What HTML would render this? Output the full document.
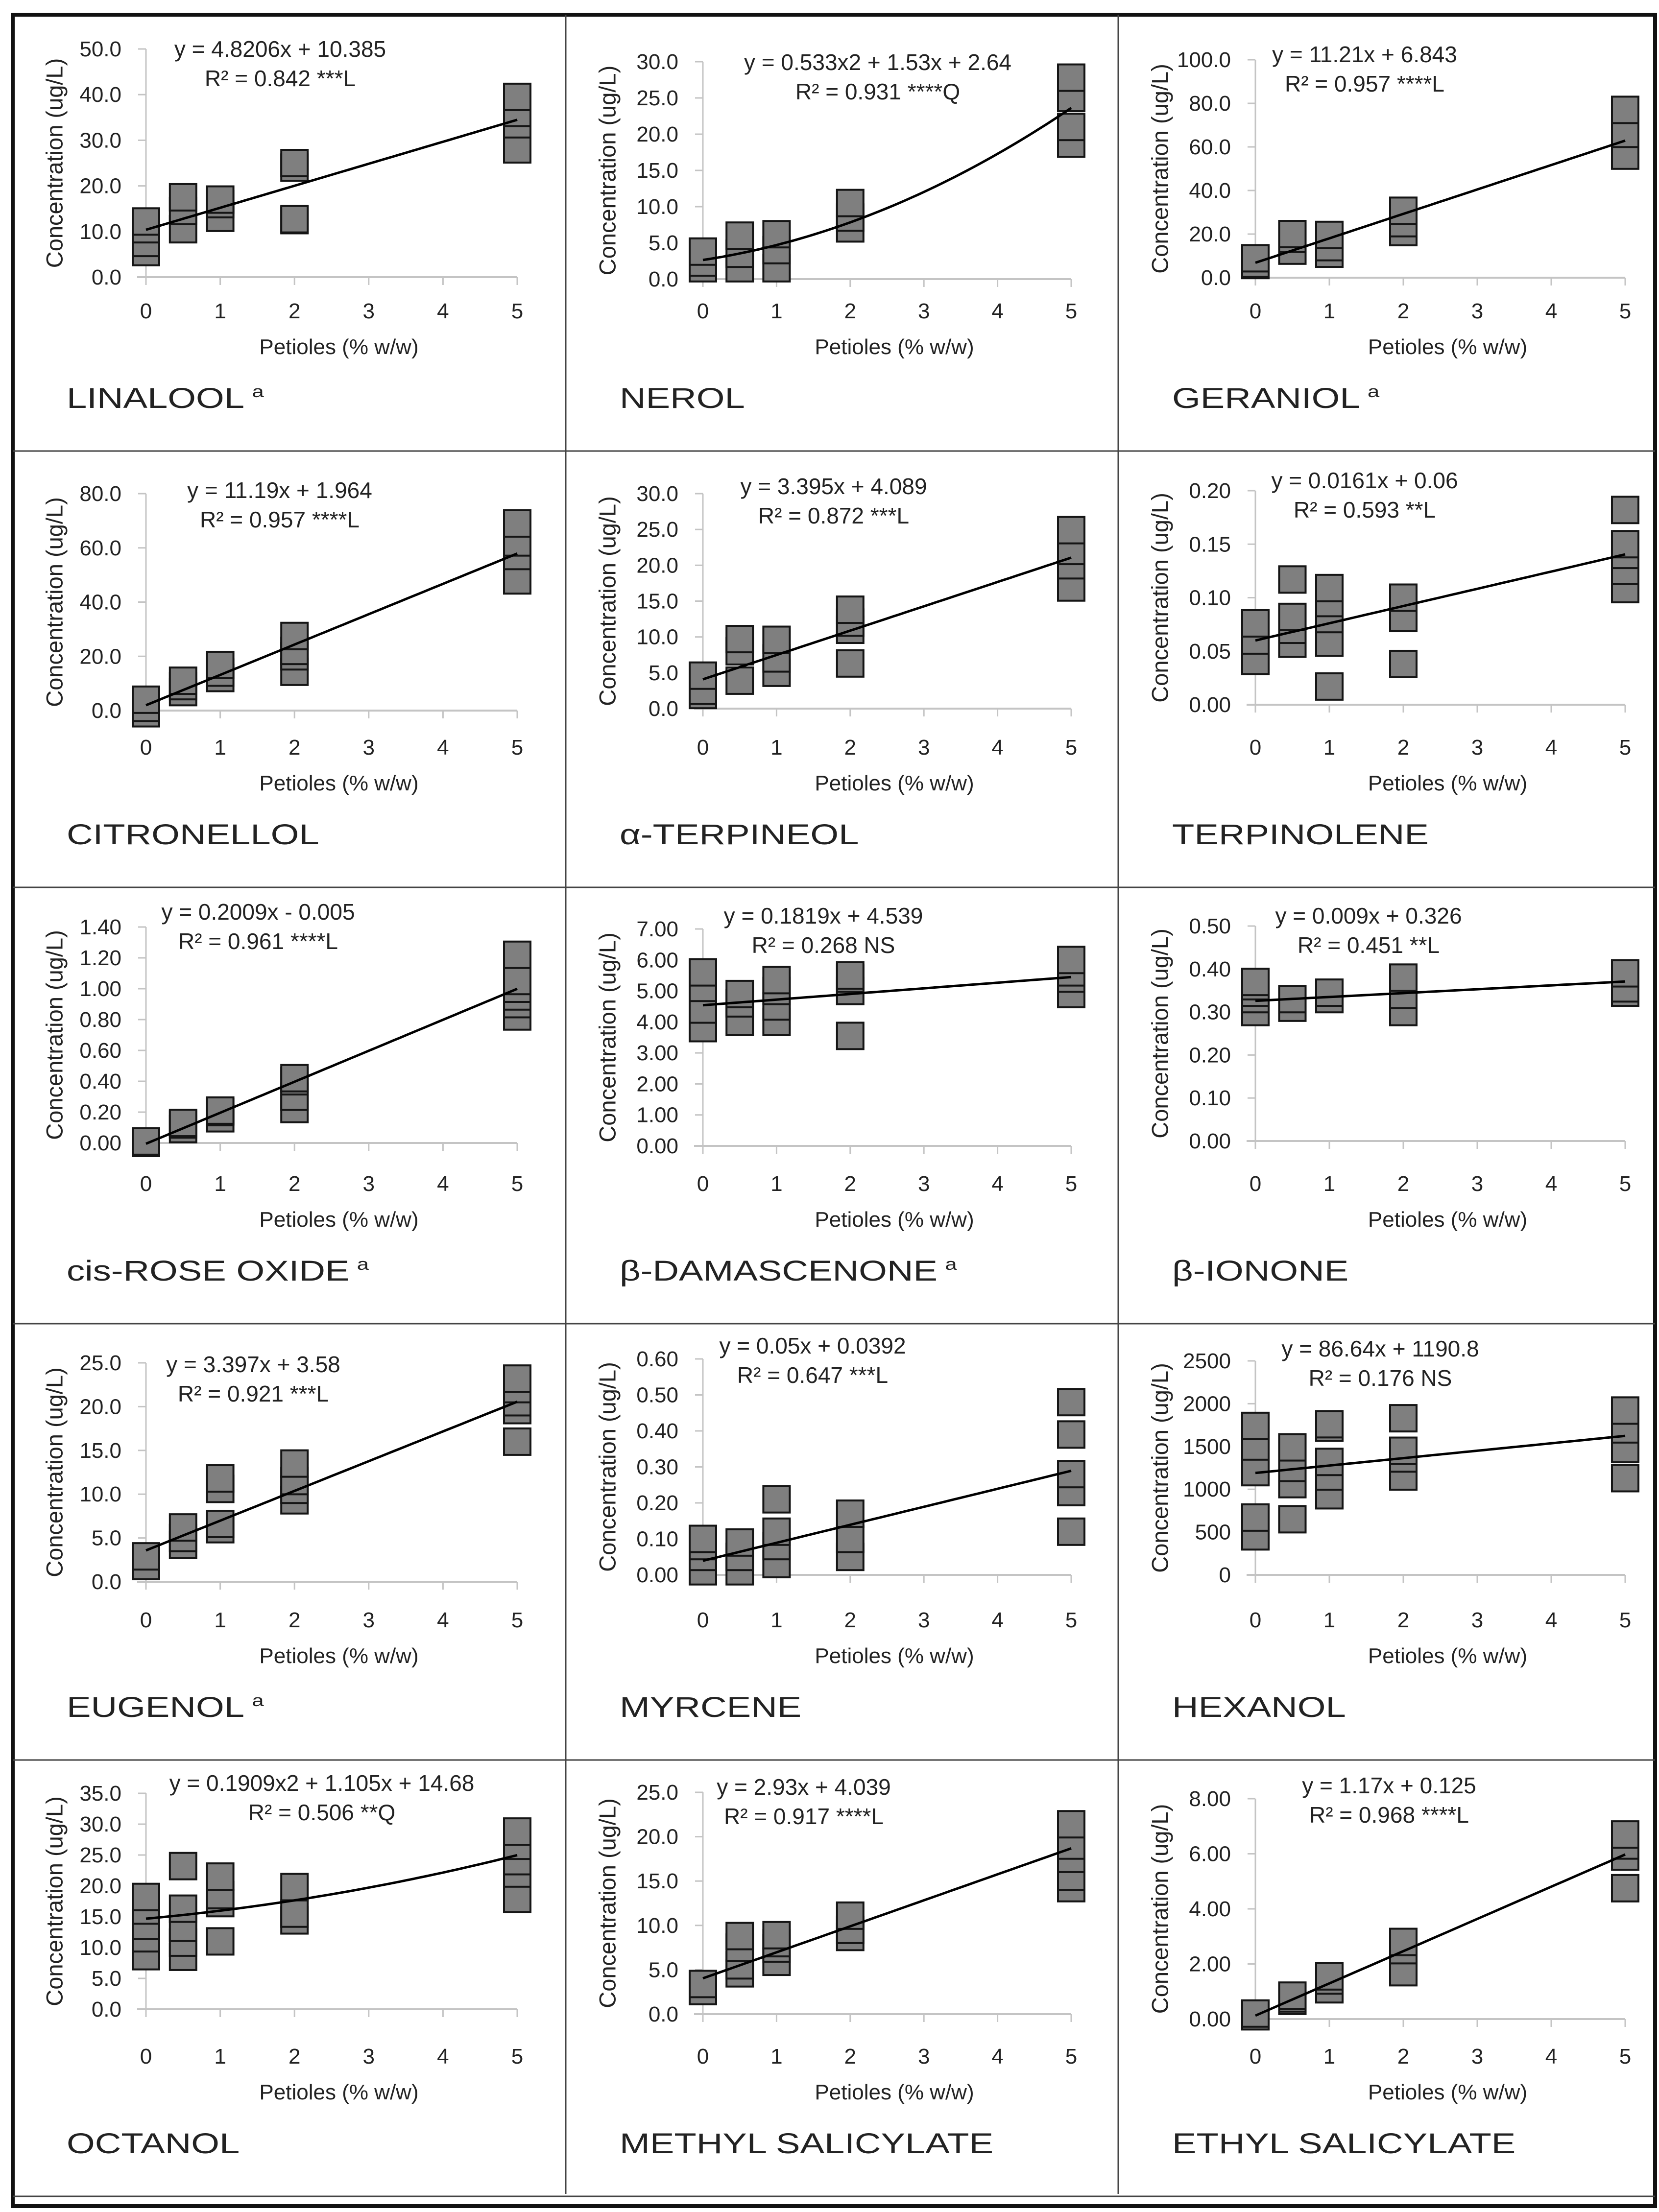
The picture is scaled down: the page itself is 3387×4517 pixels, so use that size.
<!DOCTYPE html>
<html><head><meta charset="utf-8"><style>
html,body{margin:0;padding:0;background:#fff}
svg{display:block}
text{font-family:"Liberation Sans",Arial,sans-serif;fill:#222}
</style></head>
<body>
<svg id="fig" xmlns="http://www.w3.org/2000/svg" width="3387" height="4517" viewBox="0 0 3387 4517">
<rect x="0" y="0" width="3387" height="4517" fill="#fff"/>
</svg>
<script>
// ---- data ----
const xLevels = [0, 0.5, 1, 2, 5];
const compoundNames = ["LINALOOL","NEROL","GERANIOL","CITRONELLOL","α-TERPINEOL","TERPINOLENE","cis-ROSE OXIDE","β-DAMASCENONE","β-IONONE","EUGENOL","MYRCENE","HEXANOL","OCTANOL","METHYL SALICYLATE","ETHYL SALICYLATE"];
const compoundSup = [1,0,1,0,0,0,1,1,0,1,0,0,0,0,0];
const yMaxes = [50,30,100,80,30,0.2,1.4,7,0.5,25,0.6,2500,35,25,8];
const ySteps = [10,5,20,20,5,0.05,0.2,1,0.1,5,0.1,500,5,5,2];
const yDecimals = [1,1,1,1,1,2,2,2,2,1,2,0,1,1,2];
const xTicks = [0,1,2,3,4,5];
const eqLine1 = ["y = 4.8206x + 10.385","y = 0.533x2 + 1.53x + 2.64","y = 11.21x + 6.843","y = 11.19x + 1.964","y = 3.395x + 4.089","y = 0.0161x + 0.06","y = 0.2009x - 0.005","y = 0.1819x + 4.539","y = 0.009x + 0.326","y = 3.397x + 3.58","y = 0.05x + 0.0392","y = 86.64x + 1190.8","y = 0.1909x2 + 1.105x + 14.68","y = 2.93x + 4.039","y = 1.17x + 0.125"];
const eqLine2 = ["R² = 0.842 ***L","R² = 0.931 ****Q","R² = 0.957 ****L","R² = 0.957 ****L","R² = 0.872 ***L","R² = 0.593 **L","R² = 0.961 ****L","R² = 0.268 NS","R² = 0.451 **L","R² = 0.921 ***L","R² = 0.647 ***L","R² = 0.176 NS","R² = 0.506 **Q","R² = 0.917 ****L","R² = 0.968 ****L"];
const fitIntercepts = [10.385,2.64,6.843,1.964,4.089,0.06,-0.005,4.539,0.326,3.58,0.0392,1190.8,14.68,4.039,0.125];
const fitSlopes = [4.8206,1.53,11.21,11.19,3.395,0.0161,0.2009,0.1819,0.009,3.397,0.05,86.64,1.105,2.93,1.17];
const fitQuads = [0,0.533,0,0,0,0,0,0,0,0,0,0,0.1909,0,0];
const linaloolY = [[5.5,7.5,10.5,12.2],[10.5,14.5,17.5],[13,16,17],[12.5,12.7,24,25],[28,33.5,36,39.5]];
const nerolY = [[1.5,2.3,3.8],[1.5,3.5,6.0],[1.5,4,6.2],[7,8.5,10.5],[18.7,21,25,27.8]];
const geraniolY = [[5.8,6.5,8.9],[12.4,17.8,20],[11,14,19.6],[20.9,25,30.7],[56,66,77]];
const citronellolY = [[-1,1,4],[6.8,9,11],[12,14,16.8],[14.3,20,22,27.5],[48,57,62,69]];
const terpineolY = [[1.9,2.5,4.6],[3.9,8,9.7],[5,7,9.6],[6.3,11,12,13.8],[16.9,20,22,24.9]];
const terpinoleneY = [[0.041,0.06,0.076],[0.057,0.07,0.082,0.117],[0.017,0.058,0.08,0.095,0.109],[0.038,0.081,0.1],[0.108,0.125,0.14,0.15,0.182]];
const roseOxideY = [[0,0.01],[0.09,0.12,0.13],[0.16,0.2,0.21],[0.22,0.3,0.4,0.42],[0.82,0.9,0.95,1.0,1.05,1.22]];
const damascenoneY = [[3.8,4.4,5.1,5.6],[4.0,4.6,4.9],[4.0,4.5,5.0,5.35],[3.55,5.0,5.4,5.5],[4.9,5.4,5.6,6.0]];
const iononeY = [[0.30,0.33,0.345,0.36,0.37],[0.31,0.33],[0.33,0.345],[0.30,0.34,0.38],[0.345,0.355,0.39]];
const eugenolY = [[1.8,2.9],[4.2,5,6.2],[6,6.6,10.6,11.8],[9.3,10.5,11.5,13.5],[16,19.6,20.5,22,23.2]];
const myrceneY = [[0.01,0.05,0.08,0.1],[0.01,0.05,0.09],[0.03,0.08,0.12,0.21],[0.05,0.1,0.17],[0.12,0.23,0.28,0.39,0.48]];
const hexanolY = [[450,670,1200,1500,1740],[650,1060,1250,1490],[930,1150,1320,1720,1760],[1150,1360,1450,1830],[1130,1470,1700,1920]];
const octanolY = [[8.6,11.5,13.5,16,18.2],[8.5,10.8,13.2,16.3,23.2],[11,17.2,18.5,21.5],[14.4,15.5,19.8],[17.9,22,24,26.5,28.8]];
const methylSalY = [[2.6,3.4],[4.6,5.5,7.5,8.8],[5.9,7.4,8,8.9],[8.7,9.5,11.1],[14.2,15.5,17.5,19,21.4]];
const ethylSalY = [[0.1,0.2],[0.66,0.75,0.85],[1.08,1.4,1.55],[1.7,2.5,2.8],[4.75,5.9,6.3,6.7]];
const panelValues = [linaloolY,nerolY,geraniolY,citronellolY,terpineolY,terpinoleneY,roseOxideY,damascenoneY,iononeY,eugenolY,myrceneY,hexanolY,octanolY,methylSalY,ethylSalY];

// ---- layout (pixels) ----
const colLeft = [26,1155,2283];
const colX0 = [272,280,280];
const colX5 = [1030,1032,1035];
const plotTops = [70,96,92,87,87,81,81,85,79,80,72,76,68,66,79];
const plotZeros = [536,540,537,530,526,518,522,528,518,527,513,513,509,519,529];
const eqCx = [546,637,503,545,547,503,501,526,511,491,504,535,631,486,553];
const eqCy = [71,98,82,81,73,61,51,59,59,84,46,52,48,56,53];

const NS = "http://www.w3.org/2000/svg";
const svg = document.getElementById("fig");
function mk(parent, tag, attrs, txt){
  const e = document.createElementNS(NS, tag);
  for (const k in attrs) e.setAttribute(k, attrs[k]);
  if (txt !== undefined) e.textContent = txt;
  parent.appendChild(e);
  return e;
}

// frame
let el = mk(svg,"rect",{x:26,y:30,width:3353,height:4475,fill:"none",stroke:"#111","stroke-width":8});


for (let c=1;c<3;c++){
  el = mk(svg,"line",{x1:colLeft[c],x2:colLeft[c],y1:30,y2:4480,stroke:"#444","stroke-width":3});
  
  
}
for (let r=1;r<=5;r++){
  el = mk(svg,"line",{x1:26,x2:3379,y1:30+891*r,y2:30+891*r,stroke:"#444","stroke-width":3});
  
  
}

function slug(s){return s.toLowerCase().replace(/[^a-z]+/g,'-').replace(/^-|-$/g,'');}

for (let i=0;i<15;i++){
  const c=i%3, r=Math.floor(i/3);
  const ox=colLeft[c], oy=30+891*r;
  const x0=ox+colX0[c], x5=ox+colX5[c];
  const top=oy+plotTops[i], zero=oy+plotZeros[i];
  const max=yMaxes[i];
  const sx=v=>x0+v*(x5-x0)/5;
  const sy=v=>zero-v/max*(zero-top);
  const g = mk(svg,"g",{});
  
  

  let a = mk(g,"line",{x1:sx(0),x2:sx(0),y1:sy(max),y2:sy(0),stroke:"#c4c4c4","stroke-width":3});
  
  
  a = mk(g,"line",{x1:sx(0)-18,x2:sx(5),y1:sy(0),y2:sy(0),stroke:"#c4c4c4","stroke-width":4});
  
  

  const step=ySteps[i];
  for (let k=0; k*step<=max+1e-9; k++){
    const v=k*step;
    let t = mk(g,"line",{x1:sx(0)-16,x2:sx(0),y1:sy(v),y2:sy(v),stroke:"#c4c4c4","stroke-width":3});
    
    
    t = mk(g,"text",{x:sx(0)-50,y:sy(v)+15,"text-anchor":"end","font-size":44}, v.toFixed(yDecimals[i]));
    
    
  }
  for (const xv of xTicks){
    let t = mk(g,"line",{x1:sx(xv),x2:sx(xv),y1:sy(0),y2:sy(0)+16,stroke:"#c4c4c4","stroke-width":3});
    
    
    t = mk(g,"text",{x:sx(xv),y:oy+620,"text-anchor":"middle","font-size":44}, String(xv));
    
    
  }
  let t = mk(g,"text",{x:(sx(0)+sx(5))/2+15,y:oy+693,"text-anchor":"middle","font-size":44},"Petioles (% w/w)");
  
  
  const cy=(sy(max)+sy(0))/2;
  t = mk(g,"text",{x:ox+85,y:cy,"text-anchor":"middle","dominant-baseline":"central","font-size":47,transform:`rotate(-90 ${ox+85} ${cy})`},"Concentration (ug/L)");
  
  

  const vals=panelValues[i];
  for (let j=0;j<xLevels.length;j++){
    for (const v of vals[j]){
      const b = mk(g,"rect",{x:sx(xLevels[j])-27,y:sy(v)-27,width:54,height:54,fill:"#7f7f7f",stroke:"#151515","stroke-width":4});
      
      
    }
  }
  const pts=[];
  for (let s=0;s<=60;s++){
    const xv=5*s/60;
    const yv=fitIntercepts[i]+fitSlopes[i]*xv+fitQuads[i]*xv*xv;
    pts.push(sx(xv).toFixed(1)+","+sy(yv).toFixed(1));
  }
  const f = mk(g,"polyline",{points:pts.join(" "),fill:"none",stroke:"#000","stroke-width":5});
  
  

  t = mk(g,"text",{x:ox+eqCx[i],y:oy+eqCy[i]+15,"text-anchor":"middle","font-size":46},eqLine1[i]);
  
  
  t = mk(g,"text",{x:ox+eqCx[i],y:oy+eqCy[i]+75,"text-anchor":"middle","font-size":46},eqLine2[i]);
  
  

  const lx=ox+110, ly=oy+803;
  t = mk(g,"text",{x:0,y:0,"font-size":58,fill:"#111",transform:`translate(${lx} ${ly}) scale(1.28 1)`},compoundNames[i]);
  
  
  if (compoundSup[i]){
    const sp = mk(t,"tspan",{"font-size":34,dx:12,dy:-22},"a");
    
    
  }
}
</script>
</body></html>
